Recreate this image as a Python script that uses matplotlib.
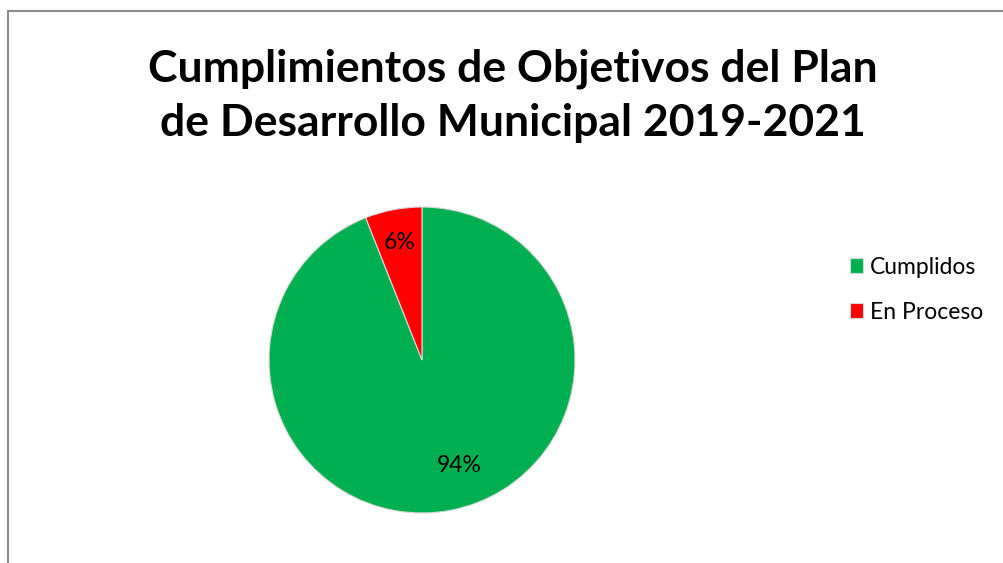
import matplotlib.pyplot as plt
from matplotlib.lines import Line2D

# datos del grafico
categorias = ["Cumplidos", "En Proceso"]
valores = [94, 6]
colores = ["#00B050", "#FF0000"]
titulo = "Cumplimientos de Objetivos del Plan\nde Desarrollo Municipal 2019-2021"

plt.rcParams['font.family'] = ['Lato', 'DejaVu Sans']

W, H = 1004, 563
fig = plt.figure(figsize=(W/100, H/100), dpi=100)
fig.patch.set_facecolor("white")

# marco del area del grafico (solo se ven borde izquierdo y superior)
fig.add_artist(Line2D([8/W, 8/W], [0, 1-11/H], color="#8c8c8c", lw=1.5))
fig.add_artist(Line2D([8/W, 1], [1-11/H, 1-11/H], color="#8c8c8c", lw=1.5))

fig.text(513/W, 1-96/H, titulo, ha="center", va="center", fontsize=32,
         fontweight="bold", linespacing=1.42)

cx, cy, r = 422, 360, 153
ax = fig.add_axes([(cx-r)/W, (H-cy-r)/H, 2*r/W, 2*r/H])
wedges, textos, pcts = ax.pie(valores, colors=colores, startangle=90, counterclock=False,
                              autopct="%1.0f%%", pctdistance=0.78,
                              wedgeprops=dict(edgecolor="#d9d9d9", linewidth=0.8),
                              textprops=dict(fontsize=16.5))
pcts[0].set_position((0.24, -0.69))
ax.set_xlim(-1, 1)
ax.set_ylim(-1, 1)
ax.set_aspect("equal")
ax.axis("off")

leg = fig.legend(wedges, categorias, loc="upper left", bbox_to_anchor=(829/W, 1-236/H),
                 frameon=False, fontsize=16.5, handlelength=0.6, handleheight=0.6,
                 handletextpad=0.3, labelspacing=1.05)

plt.savefig("out.png", dpi=100)
